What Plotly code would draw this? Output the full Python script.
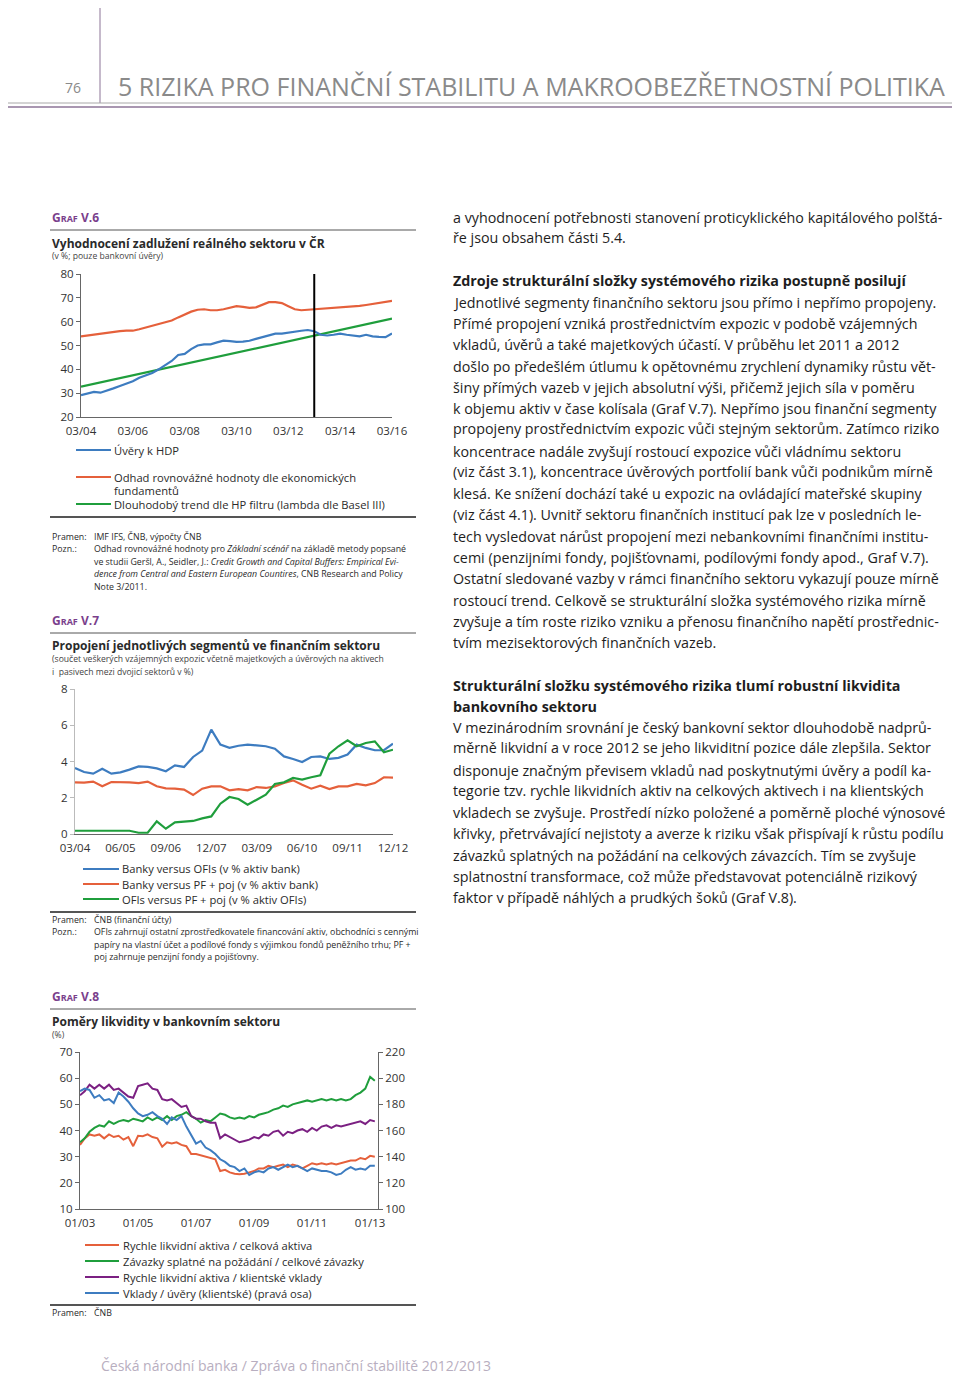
import plotly.graph_objects as go
import pandas as pd

W, H = 960, 1376
OFF = 8  # page body margin of the browser


def X(px):
    return (px - OFF) / W


def Y(py):
    return 1 - (py - OFF) / H


FONT = "Open Sans"
C_BLUE = "#3d7cc0"
C_RED = "#e5603b"
C_GREEN = "#1f9e3c"
C_PURPLE = "#7b2082"
C_AXIS = "#666666"
C_TXT = "#2a2a2a"

# ---------------- Graf V.6 data (quarterly 03/04 .. 03/16) ----------------
v6_ticktext = ["03/04", "03/06", "03/08", "03/10", "03/12", "03/14", "03/16"]
v6_credit_gdp = [29.2, 29.8, 30.5, 30.2, 31.0, 32.0, 33.0, 34.0, 35.0, 36.5, 37.5, 38.5,
                 40.0, 41.8, 43.5, 46.0, 46.5, 48.5, 50.0, 50.5, 50.5, 51.3, 52.0, 51.8,
                 51.5, 51.6, 52.0, 52.8, 53.5, 54.4, 55.0, 55.0, 55.5, 55.9, 56.2, 56.5,
                 56.0, 54.5, 54.2, 54.5, 55.0, 54.5, 54.0, 53.8, 54.5, 53.8, 53.6, 53.5, 55.0]
v6_equilibrium = [53.8, 54.2, 54.6, 55.0, 55.5, 55.8, 56.0, 56.2, 56.2, 56.8, 57.5, 58.2,
                  59.0, 59.7, 60.5, 61.8, 63.0, 64.2, 65.0, 65.2, 64.8, 64.8, 65.2, 65.8,
                  66.5, 66.2, 65.8, 66.0, 67.0, 68.2, 68.2, 67.8, 66.5, 65.2, 64.8, 65.0,
                  65.0, 65.3, 65.5, 65.6, 65.7, 66.0, 66.3, 66.6, 67.0, 67.4, 67.8, 68.2, 68.7]
v6_trend_q = [0, 48]
v6_trend = [32.7, 61.3]
v6_forecast_start_q = 36

# ---------------- Graf V.7 data (quarterly 03/04 .. 12/12) ----------------
v7_ticktext = ["03/04", "06/05", "09/06", "12/07", "03/09", "06/10", "09/11", "12/12"]
v7_banks_ofis = [3.64, 3.42, 3.33, 3.60, 3.33, 3.40, 3.55, 3.73, 3.70, 3.62, 3.46, 3.79,
                 3.70, 4.25, 4.60, 5.76, 4.93, 4.75, 4.87, 4.93, 4.89, 4.84, 4.71, 4.28,
                 4.14, 3.97, 4.25, 4.28, 4.14, 4.20, 4.38, 4.93, 4.75, 4.62, 4.62, 4.98]
v7_banks_pf = [2.85, 2.83, 2.89, 2.63, 2.87, 2.87, 2.85, 2.81, 2.89, 2.63, 2.52, 2.50,
               2.45, 2.15, 2.50, 2.63, 2.63, 2.41, 2.48, 2.41, 2.59, 2.54, 2.63, 2.81,
               2.96, 2.72, 2.50, 2.67, 2.48, 2.63, 2.63, 2.76, 2.68, 2.81, 3.13, 3.11]
v7_ofis_pf = [0.18, 0.18, 0.18, 0.20, 0.20, 0.18, 0.18, 0.07, 0.07, 0.70, 0.29, 0.64,
              0.66, 0.72, 0.86, 0.97, 1.67, 2.04, 1.93, 1.62, 1.89, 2.17, 2.76, 2.85,
              3.09, 3.00, 3.13, 3.24, 4.43, 4.84, 5.17, 4.84, 5.02, 5.11, 4.51, 4.65]

# ---------------- Graf V.8 data (bimonthly 01/03 .. 03/13) ----------------
v8_dates = pd.date_range("2003-01-01", periods=62, freq="2MS")
v8_tickvals = ["2003-01-01", "2005-01-01", "2007-01-01", "2009-01-01", "2011-01-01", "2013-01-01"]
v8_ticktext = ["01/03", "01/05", "01/07", "01/09", "01/11", "01/13"]
v8_liquid_assets = [34.5, 37.0, 38.5, 38.0, 38.5, 37.0, 38.5, 37.5, 38.0, 36.5, 37.5, 34.0,
                    38.0, 37.8, 38.5, 37.5, 37.0, 33.8, 35.5, 35.0, 35.5, 34.5, 34.0, 31.0,
                    31.0, 30.5, 30.0, 29.5, 29.0, 24.5, 25.0, 24.0, 23.5, 23.3, 23.5, 24.0,
                    24.5, 25.5, 25.5, 26.5, 26.0, 26.5, 27.0, 26.0, 27.0, 26.5, 25.5, 26.5,
                    27.5, 27.0, 27.5, 27.0, 27.5, 27.0, 27.5, 28.0, 28.5, 28.5, 29.5, 29.0,
                    30.3, 30.0]
v8_demand_liab = [35.5, 37.0, 39.5, 41.0, 42.0, 41.5, 43.5, 42.5, 43.5, 44.0, 43.5, 44.5,
                  44.0, 43.5, 45.0, 44.0, 45.0, 44.0, 45.5, 44.0, 45.5, 46.0, 47.0, 45.5,
                  44.5, 43.0, 44.0, 43.5, 45.0, 46.5, 46.0, 45.0, 44.5, 45.0, 44.5, 45.5,
                  45.0, 46.0, 46.5, 47.0, 48.0, 48.5, 49.5, 49.0, 50.0, 50.5, 51.0, 51.5,
                  51.0, 51.5, 52.0, 51.5, 52.0, 51.5, 52.0, 51.5, 52.0, 53.5, 54.5, 56.0,
                  60.5, 59.0]
v8_liquid_deposits = [53.5, 55.0, 57.5, 56.0, 57.5, 56.0, 57.5, 55.5, 56.0, 54.5, 53.0, 52.5,
                      57.0, 57.5, 58.0, 56.0, 55.5, 52.0, 51.5, 52.0, 50.5, 49.0, 49.5, 45.5,
                      44.5, 44.5, 43.5, 43.0, 43.0, 37.0, 38.5, 37.5, 36.5, 35.5, 36.0, 36.5,
                      37.5, 37.0, 38.5, 38.0, 39.5, 40.0, 38.0, 39.5, 39.0, 40.0, 40.5, 39.5,
                      41.0, 40.0, 41.5, 42.0, 41.0, 42.0, 41.5, 42.0, 42.5, 43.0, 43.5, 42.5,
                      44.0, 43.5]
v8_deposits_loans = [190, 192, 191, 185, 187, 183, 184, 181, 189, 186, 182, 177,
                     173, 171, 172, 174, 171, 169, 165, 170, 168, 171, 163, 156,
                     150, 152, 147, 145, 142, 138, 136, 133, 132, 129, 131, 126,
                     128, 129, 128, 131, 132, 130, 132, 134, 132, 133, 131, 129,
                     131, 130, 129, 129, 128, 126, 127, 130, 132, 130, 131, 130,
                     133, 133]

fig = go.Figure()

q1 = list(range(len(v6_credit_gdp)))
fig.add_trace(go.Scatter(x=q1, y=v6_equilibrium, mode="lines", line=dict(color=C_RED, width=2.2),
                         xaxis="x", yaxis="y", showlegend=False))
fig.add_trace(go.Scatter(x=v6_trend_q, y=v6_trend, mode="lines", line=dict(color=C_GREEN, width=2.2),
                         xaxis="x", yaxis="y", showlegend=False))
fig.add_trace(go.Scatter(x=q1, y=v6_credit_gdp, mode="lines", line=dict(color=C_BLUE, width=2.2),
                         xaxis="x", yaxis="y", showlegend=False))

q2 = list(range(len(v7_banks_ofis)))
for vals, col in [(v7_banks_ofis, C_BLUE), (v7_banks_pf, C_RED), (v7_ofis_pf, C_GREEN)]:
    fig.add_trace(go.Scatter(x=q2, y=vals, mode="lines", line=dict(color=col, width=2.2),
                             xaxis="x2", yaxis="y2", showlegend=False))

for vals, col, ya in [(v8_liquid_assets, C_RED, "y3"), (v8_demand_liab, C_GREEN, "y3"),
                      (v8_liquid_deposits, C_PURPLE, "y3"), (v8_deposits_loans, C_BLUE, "y4")]:
    fig.add_trace(go.Scatter(x=v8_dates, y=vals, mode="lines", line=dict(color=col, width=2),
                             xaxis="x3", yaxis=ya, showlegend=False))

tickfont = dict(family=FONT, size=11.5, color="#333333")
common_x = dict(showgrid=False, zeroline=False, showline=True, linecolor=C_AXIS, linewidth=1,
                ticks="", tickfont=tickfont, automargin=False, ticklabelstandoff=3)
common_y = dict(showgrid=False, zeroline=False, showline=True, linecolor=C_AXIS, linewidth=1,
                ticks="outside", ticklen=4, tickcolor=C_AXIS, tickfont=tickfont, automargin=False)

fig.update_layout(
    width=W, height=H, margin=dict(l=0, r=0, t=0, b=0, pad=0, autoexpand=False),
    paper_bgcolor="white", plot_bgcolor="white",
    font=dict(family=FONT, color=C_TXT),
    xaxis=dict(common_x, domain=[X(81), X(392)], range=[0, 48], anchor="y",
               tickmode="array", tickvals=[0, 8, 16, 24, 32, 40, 48], ticktext=v6_ticktext),
    yaxis=dict(common_y, domain=[Y(417), Y(274)], range=[20, 80], dtick=10, anchor="x"),
    xaxis2=dict(common_x, domain=[X(75), X(393)], range=[0, 35], anchor="y2",
                tickmode="array", tickvals=[0, 5, 10, 15, 20, 25, 30, 35], ticktext=v7_ticktext),
    yaxis2=dict(common_y, domain=[Y(834), Y(689)], range=[0, 8], dtick=2, anchor="x2",
                linecolor="#bbbbbb", tickcolor="#bbbbbb"),
    xaxis3=dict(common_x, type="date", domain=[X(80), X(378)], range=["2003-01-01", "2013-04-10"],
                anchor="y3", tickmode="array", tickvals=v8_tickvals, ticktext=v8_ticktext),
    yaxis3=dict(common_y, domain=[Y(1209), Y(1052)], range=[10, 70], dtick=10, anchor="x3"),
    yaxis4=dict(common_y, domain=[Y(1209), Y(1052)], range=[100, 220], dtick=20, anchor="x3",
                overlaying="y3", side="right"),
)

shapes = []
annotations = []


def hline(y, x0, x1, color, width):
    shapes.append(dict(type="line", xref="paper", yref="paper", x0=X(x0), x1=X(x1),
                       y0=Y(y), y1=Y(y), line=dict(color=color, width=width)))


def text(x, y, s, size, color=C_TXT, anchor="left", family=FONT):
    annotations.append(dict(xref="paper", yref="paper", x=X(x), y=Y(y), text=s, showarrow=False,
                            xanchor=anchor, yanchor="middle", borderpad=0,
                            font=dict(family=family, size=size, color=color)))


# forecast divider in chart V.6
shapes.append(dict(type="line", xref="x", yref="y domain", x0=v6_forecast_start_q, x1=v6_forecast_start_q,
                   y0=0, y1=1, line=dict(color="black", width=2)))

# ---------------- header ----------------
shapes.append(dict(type="line", xref="paper", yref="paper", x0=X(100), x1=X(100), y0=Y(0), y1=Y(103),
                   line=dict(color="#8c7597", width=1)))
hline(103, 0, 968, "#a8a8a8", 1)
hline(107, 0, 968, "#8c7597", 1.5)
text(82, 88, "76", 14, "#8a8a8a", anchor="right")
text(117, 86, "5 RIZIKA PRO FINANČNÍ STABILITU A MAKROOBEZŘETNOSTNÍ POLITIKA", 25, "#8a8a8a")

GRAF_C = "#7a3f8c"


def graf_label(y, num):
    text(51, y, "<b>G<span style='font-size:9px'>RAF</span> V.%s</b>" % num, 12, GRAF_C)


NOTE = 8.8
leg_size = 11.2

# ---- Graf V.6 captions
graf_label(218, "6")
hline(230, 50, 416, "#555555", 1)
text(51, 243, "<b>Vyhodnocení zadlužení reálného sektoru v ČR</b>", 12)
text(51, 256, "(v %; pouze bankovní úvěry)", 8.6, "#444444")
for y, col in [(450, C_BLUE), (477, C_RED), (504, C_GREEN)]:
    hline(y, 76, 111, col, 2.2)
text(113, 450, "Úvěry k HDP", leg_size)
text(113, 477, "Odhad rovnovážné hodnoty dle ekonomických", leg_size)
text(113, 490.5, "fundamentů", leg_size)
text(113, 504.5, "Dlouhodobý trend dle HP filtru (lambda dle Basel III)", leg_size)
hline(517, 50, 416, "#555555", 2)
text(51, 537, "Pramen:", NOTE)
text(93, 537, "IMF IFS, ČNB, výpočty ČNB", NOTE)
text(51, 549, "Pozn.:", NOTE)
text(93, 549, "Odhad rovnovážné hodnoty pro <i>Základní scénář</i> na základě metody popsané", NOTE)
text(93, 562, "ve studii Geršl, A., Seidler, J.: <i>Credit Growth and Capital Buffers: Empirical Evi-</i>", NOTE)
text(93, 574, "<i>dence from Central and Eastern European Countires</i>, CNB Research and Policy", NOTE)
text(93, 587, "Note 3/2011.", NOTE)

# ---- Graf V.7 captions
graf_label(620, "7")
hline(633, 50, 416, "#555555", 1)
text(51, 645, "<b>Propojení jednotlivých segmentů ve finančním sektoru</b>", 12)
text(51, 659, "(součet veškerých vzájemných expozic včetně majetkových a úvěrových na aktivech", 8.6, "#444444")
text(51, 672, "i  pasivech mezi dvojicí sektorů v %)", 8.6, "#444444")
for y, col in [(869, C_BLUE), (884, C_RED), (899, C_GREEN)]:
    hline(y, 83, 119, col, 2.2)
text(121, 869, "Banky versus OFIs (v % aktiv bank)", leg_size)
text(121, 884, "Banky versus PF + poj (v % aktiv bank)", leg_size)
text(121, 899, "OFIs versus PF + poj (v % aktiv OFIs)", leg_size)
hline(912, 50, 416, "#555555", 2)
text(51, 920, "Pramen:", NOTE)
text(93, 920, "ČNB (finanční účty)", NOTE)
text(51, 932, "Pozn.:", NOTE)
text(93, 932, "OFIs zahrnují ostatní zprostředkovatele financování aktiv, obchodníci s cennými", NOTE)
text(93, 945, "papíry na vlastní účet a podílové fondy s výjimkou fondů peněžního trhu; PF +", NOTE)
text(93, 957, "poj zahrnuje penzijní fondy a pojišťovny.", NOTE)

# ---- Graf V.8 captions
graf_label(996, "8")
hline(1009, 50, 416, "#555555", 1)
text(51, 1021, "<b>Poměry likvidity v bankovním sektoru</b>", 12)
text(51, 1035, "(%)", 8.6, "#444444")
for y, col in [(1245, C_RED), (1261, C_GREEN), (1277, C_PURPLE), (1293, C_BLUE)]:
    hline(y, 85, 119, col, 2.2)
text(122, 1245, "Rychle likvidní aktiva / celková aktiva", leg_size)
text(122, 1261, "Závazky splatné na požádání / celkové závazky", leg_size)
text(122, 1277, "Rychle likvidní aktiva / klientské vklady", leg_size)
text(122, 1293, "Vklady / úvěry (klientské) (pravá osa)", leg_size)
hline(1305, 50, 416, "#555555", 2)
text(51, 1313, "Pramen:", NOTE)
text(93, 1313, "ČNB", NOTE)

# footer
text(100, 1365, "Česká národní banka / Zpráva o finanční stabilitě 2012/2013", 14, "#b8aec0")

# ---------------- right column text ----------------
BODY = 14.3
body_lines = [
    (217, "a vyhodnocení potřebnosti stanovení proticyklického kapitálového polštá-", False),
    (238, "ře jsou obsahem části 5.4.", False),
    (281, "Zdroje strukturální složky systémového rizika postupně posilují", True),
    (302, "Jednotlivé segmenty finančního sektoru jsou přímo i nepřímo propojeny.", False),
    (323, "Přímé propojení vzniká prostřednictvím expozic v podobě vzájemných", False),
    (344, "vkladů, úvěrů a také majetkových účastí. V průběhu let 2011 a 2012", False),
    (366, "došlo po předešlém útlumu k opětovnému zrychlení dynamiky růstu vět-", False),
    (387, "šiny přímých vazeb v jejich absolutní výši, přičemž jejich síla v poměru", False),
    (408, "k objemu aktiv v čase kolísala (Graf V.7). Nepřímo jsou finanční segmenty", False),
    (429, "propojeny prostřednictvím expozic vůči stejným sektorům. Zatímco riziko", False),
    (451, "koncentrace nadále zvyšují rostoucí expozice vůči vládnímu sektoru", False),
    (472, "(viz část 3.1), koncentrace úvěrových portfolií bank vůči podnikům mírně", False),
    (493, "klesá. Ke snížení dochází také u expozic na ovládající mateřské skupiny", False),
    (515, "(viz část 4.1). Uvnitř sektoru finančních institucí pak lze v posledních le-", False),
    (536, "tech vysledovat nárůst propojení mezi nebankovními finančními institu-", False),
    (557, "cemi (penzijními fondy, pojišťovnami, podílovými fondy apod., Graf V.7).", False),
    (578, "Ostatní sledované vazby v rámci finančního sektoru vykazují pouze mírně", False),
    (600, "rostoucí trend. Celkově se strukturální složka systémového rizika mírně", False),
    (621, "zvyšuje a tím roste riziko vzniku a přenosu finančního napětí prostřednic-", False),
    (642, "tvím mezisektorových finančních vazeb.", False),
    (685, "Strukturální složku systémového rizika tlumí robustní likvidita", True),
    (706, "bankovního sektoru", True),
    (727, "V mezinárodním srovnání je český bankovní sektor dlouhodobě nadprů-", False),
    (748, "měrně likvidní a v roce 2012 se jeho likviditní pozice dále zlepšila. Sektor", False),
    (770, "disponuje značným převisem vkladů nad poskytnutými úvěry a podíl ka-", False),
    (791, "tegorie tzv. rychle likvidních aktiv na celkových aktivech i na klientských", False),
    (812, "vkladech se zvyšuje. Prostředí nízko položené a poměrně ploché výnosové", False),
    (834, "křivky, přetrvávající nejistoty a averze k riziku však přispívají k růstu podílu", False),
    (855, "závazků splatných na požádání na celkových závazcích. Tím se zvyšuje", False),
    (876, "splatnostní transformace, což může představovat potenciálně rizikový", False),
    (897, "faktor v případě náhlých a prudkých šoků (Graf V.8).", False),
]
for y, s, bold in body_lines:
    text(452, y, "<b>%s</b>" % s if bold else s, BODY, "#1e1e1e")

fig.update_layout(shapes=shapes, annotations=annotations)
fig.write_html("out.html")
